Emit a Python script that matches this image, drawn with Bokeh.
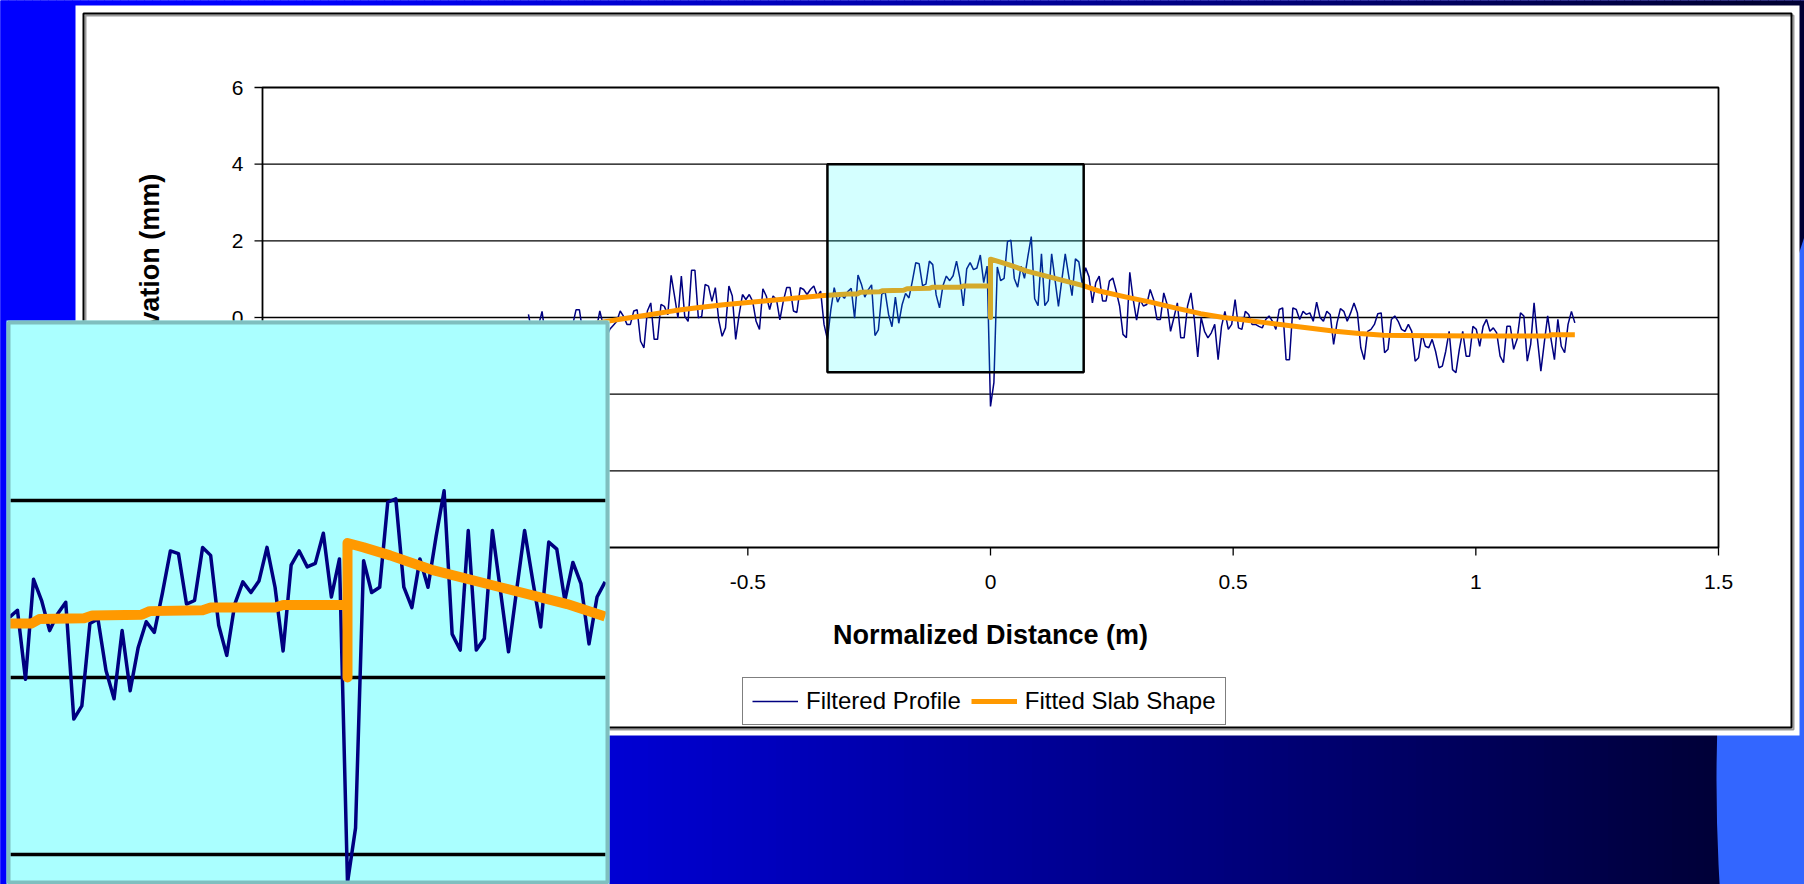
import math
import numpy as np
from bokeh.plotting import figure
from bokeh.models import Range1d, Legend, LegendItem
from bokeh.core.properties import value
from bokeh.embed import file_html
from bokeh.resources import INLINE

# ------------------------------------------------------------------ data
profile_x_start = -0.952   # m, first sample of the filtered profile
profile_x_step = 0.007     # m, sample spacing of the filtered profile
profile_elev = [
    # mostly hidden behind the inset
    0.08, -0.4, -0.6, -0.2, 0.16, -0.5, -0.3, -0.7, -0.4, -0.2,
    -0.6, -0.5, -0.3, -0.2, 0.2, 0.2, -0.4, -0.6, -0.3, -0.5,
    -0.3, 0.17, -0.2, -0.5, -0.3, -0.2,
    # approach slab
    -0.1, 0.17, 0.03, -0.18, -0.18, 0.17, 0.2, -0.62, -0.79, 0.17,
    0.38, -0.57, -0.57, 0.34, 0.29, 0.07, 1.1, 0.56, -0.01, 1.08,
    0.03, -0.1, 1.23, 1.23, -0.01, 0.03, 0.86, 0.82, 0.42, 0.78,
    -0.06, -0.49, -0.27, 0.82, 0.56, -0.57, 0.07, 0.6, 0.47, 0.6,
    0.42, -0.1, -0.31, 0.75, 0.56, 0.21, 0.56, 0.47, -0.06, 0.42,
    0.78, 0.78, 0.17, 0.13, 0.78, 0.73, 0.6, 0.73, 0.82, 0.56,
    0.69, -0.18, -0.57,
    0.2, 0.78, 0.4, 0.6, 0.5,
    # zoomed region before the joint
    0.68, 0.76, -0.02, 1.11, 0.87, 0.53, 0.72, 0.85, -0.47, -0.32,
    0.61, 0.66, 0.08, -0.24, 0.53, -0.15, 0.34, 0.63, 0.51, 0.95,
    1.43, 1.40, 0.83, 0.87, 1.47, 1.38, 0.59, 0.25, 0.83, 1.08,
    0.96, 1.09, 1.47, 1.02, 0.3, 1.27, 1.43, 1.25, 1.29, 1.63,
    0.91, 1.34,
    # joint
    -2.32,
    # zoomed region after the joint
    -1.70, 1.32, 0.96, 1.02, 1.98, 2.02, 1.02, 0.79, 1.34, 1.02,
    1.59, 2.11, 0.49, 0.31, 1.66, 0.31, 0.44, 1.66, 0.98, 0.29,
    0.98, 1.66, 1.1, 0.57, 1.53, 1.45, 0.87, 1.30, 1.06, 0.38,
    0.91,
    # leave slab
    1.08, 0.43, 0.43, 0.95, 1.03, 0.69, 0.30, -0.44, -0.53, 1.18,
    0.47, -0.07, 0.47, 0.30, 0.34, 0.73, 0.47, -0.05, -0.05, 0.64,
    0.34, -0.36, 0.0, 0.38, -0.53, -0.53, 0.30, 0.64, -0.05, -1.03,
    0.0, -0.36, -0.53, -0.40, -0.18, -1.10, -0.23, 0.16, -0.31, -0.18,
    0.47, -0.27, -0.31, 0.16, 0.08, -0.18, -0.18, -0.23, -0.27, -0.05,
    0.04, -0.10, -0.31, 0.21, 0.25, -1.10, -1.10, 0.25, 0.21, -0.05,
    0.16, 0.08, 0.12, -0.10, 0.40, 0.0, -0.10, 0.16, 0.08, -0.70,
    -0.14, 0.23, 0.16, -0.10, 0.12, 0.38, 0.12, -0.79, -1.10, -0.36,
    -0.31, -0.18, 0.10, 0.12,
    -0.92, -0.83, -0.05, 0.04, -0.10, -0.31, -0.36, -0.18, -0.36, -1.14,
    -1.05, -0.44, -0.75, -0.79, -0.57, -0.88, -1.31, -1.27, -0.88, -0.36,
    -1.36, -1.44, -0.83, -0.36, -1.01, -1.01, -0.23, -0.31, -0.75, -0.23,
    -0.05, -0.36, -0.27, -0.40, -1.01, -1.18, -0.23, -0.23, -0.83, -0.57,
    0.12, 0.04, -1.14, -0.70, 0.38, -0.57, -1.40, -0.66, 0.04, -0.57,
    -1.10, -0.05, -0.75, -0.92, -0.18, 0.16, -0.14,
]

fitted_x = [-0.952, -0.88, -0.80, -0.75, -0.70, -0.65, -0.60, -0.55, -0.50, -0.45,
            -0.40, -0.35, -0.294, -0.275, -0.268, -0.229, -0.222, -0.179, -0.172, -0.126,
            -0.119, -0.063, -0.056, 0.0, 0.0, 0.0, 0.014, 0.037, 0.075, 0.133,
            0.191, 0.224, 0.28, 0.33, 0.38, 0.433, 0.48, 0.52, 0.57, 0.639,
            0.71, 0.76, 0.81, 0.85, 1.00, 1.15, 1.155, 1.204]
fitted_y = [-0.45, -0.30, -0.12, -0.02, 0.08, 0.18, 0.26, 0.33, 0.39, 0.45,
            0.51, 0.57, 0.61, 0.61, 0.66, 0.67, 0.70, 0.71, 0.75, 0.76,
            0.79, 0.79, 0.82, 0.82, 0.0, 1.52, 1.47, 1.38, 1.21, 1.02,
            0.83, 0.69, 0.53, 0.40, 0.25, 0.10, 0.0, -0.06, -0.14, -0.25,
            -0.36, -0.42, -0.46, -0.47, -0.48, -0.48, -0.45, -0.45]

series_names = ["Filtered Profile", "Fitted Slab Shape"]
x_title = "Normalized Distance (m)"
y_title = "Elevation (mm)"
x_ticks = [-1.5, -1.0, -0.5, 0.0, 0.5, 1.0, 1.5]
x_tick_labels = ["-1.5", "-1", "-0.5", "0", "0.5", "1", "1.5"]
y_ticks = [-6, -4, -2, 0, 2, 4, 6]
y_tick_labels = ["-6", "-4", "-2", "0", "2", "4", "6"]
inset_grid_y = [-2, 0, 2]
zoom_box_x = [-0.336, 0.192]
zoom_box_y = [-1.43, 4.0]

# ------------------------------------------------------------------ layout
W, H = 1804, 884
FL, FR, FT, FB = 262, 1718, 87, 547          # main plot frame in px
X_MIN, X_MAX, Y_MIN, Y_MAX = -1.5, 1.5, -6.0, 6.0
kx = (FR - FL) / (X_MAX - X_MIN)
ky = (FB - FT) / (Y_MAX - Y_MIN)

# inset (magnified view)
IN_L, IN_R, IN_T, IN_B, IN_BW = 6, 609, 320, 884, 4
IN_X0PX, IN_KX = 347, 1150.0
IN_Y0PX, IN_KY = 677, 88.5

FONT_NAME = "Liberation Sans"
FONT = value(FONT_NAME)
NAVY = "#000080"
ORANGE = "#FF9900"

p = figure(width=W, height=H, output_backend="svg", toolbar_location=None,
           x_axis_type=None, y_axis_type=None, min_border=0,
           x_range=Range1d(X_MIN - FL / kx, X_MAX + (W - FR) / kx),
           y_range=Range1d(Y_MIN - (H - FB) / ky, Y_MAX + FT / ky))
p.outline_line_color = None
p.background_fill_color = "#0000FF"
p.border_fill_color = "#0000FF"
p.extra_x_ranges = {"px": Range1d(0, W),
                    "inset": Range1d((0 - IN_X0PX) / IN_KX, (W - IN_X0PX) / IN_KX)}
p.extra_y_ranges = {"px": Range1d(H, 0),
                    "inset": Range1d((IN_Y0PX - H) / IN_KY, IN_Y0PX / IN_KY)}

# ---- slide background: horizontal blue gradient
step = 8
lefts = list(range(0, W, step))
rights = [l + step for l in lefts]
cols = []
for l in lefts:
    t = min(max((l + step / 2 - 300) / 1450.0, 0.0), 1.0)
    cols.append("#0000%02X" % int(round(255 - 204 * t)))
p.quad(left=lefts, right=rights, top=0, bottom=H, fill_color=cols, line_color=cols,
       line_width=1, x_range_name="px", y_range_name="px")
p.circle(x=[3442], y=[780], radius=1726, fill_color="#3366FF", line_color=None,
         x_range_name="px", y_range_name="px")

# ---- chart panel
p.quad(left=[75], right=[1799], top=[5], bottom=[735], fill_color="white", line_color=None,
       x_range_name="px", y_range_name="px")
p.quad(left=[85], right=[1793], top=[15], bottom=[729], fill_color=None,
       line_color="#9a9a9a", line_width=2, x_range_name="px", y_range_name="px")
p.quad(left=[83], right=[1791], top=[13], bottom=[727], fill_color=None,
       line_color="black", line_width=2, x_range_name="px", y_range_name="px")

# ---- main axes (drawn through the scales)
gy = [y for y in y_ticks if Y_MIN < y < Y_MAX]
p.segment(x0=[X_MIN] * len(gy), x1=[X_MAX] * len(gy), y0=gy, y1=gy,
          line_color="black", line_width=1.3)
p.quad(left=[X_MIN], right=[X_MAX], bottom=[Y_MIN], top=[Y_MAX], fill_color=None,
       line_color="black", line_width=1.8)
p.segment(x0=x_ticks, x1=x_ticks, y0=[FB] * len(x_ticks), y1=[FB + 8] * len(x_ticks),
          y_range_name="px", line_color="black", line_width=1.3)
p.segment(x0=[FL - 8] * len(y_ticks), x1=[FL] * len(y_ticks), y0=y_ticks, y1=y_ticks,
          x_range_name="px", line_color="black", line_width=1.3)
p.text(x=x_ticks, y=[FB + 27] * len(x_ticks), text=x_tick_labels, y_range_name="px",
       text_align="center", text_baseline="top", text_font=FONT,
       text_font_size="21px", text_color="black")
p.text(x=[FL - 19] * len(y_ticks), y=y_ticks, text=y_tick_labels, x_range_name="px",
       text_align="right", text_baseline="middle", text_font=FONT,
       text_font_size="21px", text_color="black")
p.text(x=[(X_MIN + X_MAX) / 2], y=[634], text=[x_title], y_range_name="px",
       text_align="center", text_baseline="alphabetic", text_font=FONT,
       text_font_size="27px", text_font_style="bold", text_color="black")
p.text(x=[X_MIN - (FL - 149) / kx], y=[Y_MAX - (270 - FT) / ky], text=[y_title],
       angle=math.pi / 2, text_align="center", text_baseline="alphabetic",
       text_font=FONT, text_font_size="27px", text_font_style="bold", text_color="black")

# ---- main series
px_x = [profile_x_start + profile_x_step * i for i in range(len(profile_elev))]
r_blue = p.line(px_x, profile_elev, line_color=NAVY, line_width=1.5)
r_orange = p.line(fitted_x, fitted_y, line_color=ORANGE, line_width=5, line_join="round")

# highlighted (zoomed) window
p.quad(left=[zoom_box_x[0]], right=[zoom_box_x[1]], bottom=[zoom_box_y[0]], top=[zoom_box_y[1]],
       fill_color="#00FFFF", fill_alpha=0.17, line_color="black", line_width=2.5)

# ---- inset
p.quad(left=[IN_L], right=[IN_R], top=[IN_T], bottom=[IN_B], fill_color="#AAFFFF",
       line_color=None, x_range_name="px", y_range_name="px")
ix_lo = (IN_L + IN_BW - IN_X0PX) / IN_KX
ix_hi = (IN_R - IN_BW - IN_X0PX) / IN_KX
p.segment(x0=[ix_lo] * len(inset_grid_y), x1=[ix_hi] * len(inset_grid_y),
          y0=inset_grid_y, y1=inset_grid_y, line_color="black", line_width=3.5,
          x_range_name="inset", y_range_name="inset")
tol = profile_x_step / 2
sub = [(x, y) for x, y in zip(px_x, profile_elev) if ix_lo - tol <= x <= ix_hi + tol]
p.line([s[0] for s in sub], [s[1] for s in sub], line_color=NAVY, line_width=3.5,
       line_join="round", x_range_name="inset", y_range_name="inset")
fsub = [(x, y) for x, y in zip(fitted_x, fitted_y) if ix_lo - tol <= x <= ix_hi + tol]
p.line([s[0] for s in fsub], [s[1] for s in fsub], line_color=ORANGE, line_width=10,
       line_join="round", line_cap="butt", x_range_name="inset", y_range_name="inset")
p.quad(left=[IN_L + IN_BW / 2], right=[IN_R - IN_BW / 2], top=[IN_T + IN_BW / 2],
       bottom=[IN_B - IN_BW / 2], fill_color=None, line_color="#7FBFBF",
       line_width=IN_BW, x_range_name="px", y_range_name="px")

# ---- legend
legend = Legend(items=[LegendItem(label=series_names[0], renderers=[r_blue]),
                       LegendItem(label=series_names[1], renderers=[r_orange])],
                orientation="horizontal", location=(742, H - 725),
                padding=9, spacing=10, margin=0, label_standoff=8,
                glyph_width=46, glyph_height=26, label_height=26,
                label_text_font=FONT_NAME, label_text_font_size="24px",
                label_text_color="black",
                border_line_color="black", border_line_width=1.5,
                background_fill_color="white", background_fill_alpha=1.0)
p.add_layout(legend)

open("out.html", "w").write(file_html(p, INLINE))
